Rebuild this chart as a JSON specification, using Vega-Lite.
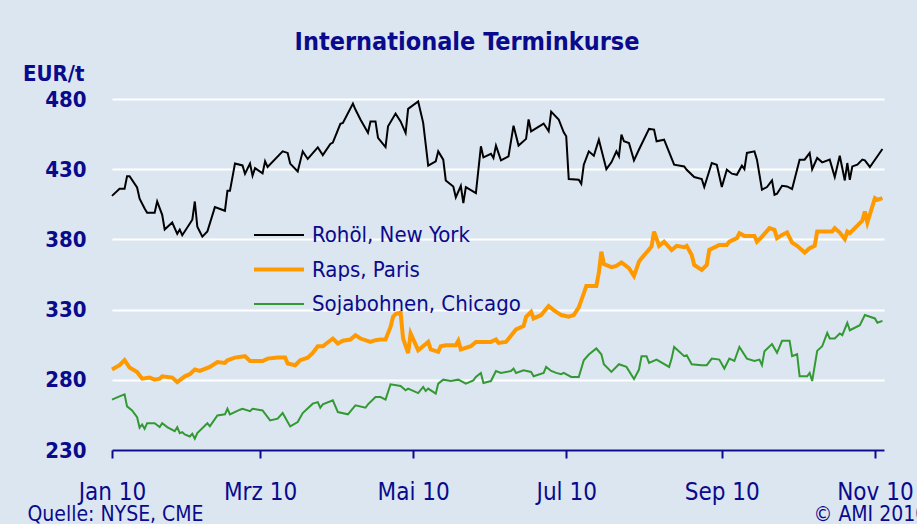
{
"$schema": "https://vega.github.io/schema/vega-lite/v6.json",
"width": 772, "height": 351,
"autosize": {"type": "none"},
"padding": {"left": 112, "top": 99, "right": 33, "bottom": 74},
"background": "#dce6f1",
"title": {"text": "Internationale Terminkurse", "fontSize": 25, "fontWeight": "bold", "color": "#0a0a8c", "font": "DejaVu Sans Condensed", "anchor": "middle", "frame": "group", "dx": -31, "dy": 18, "baseline": "alphabetic", "offset": 5},
"datasets": {
"oil": [
{"d":"2010-01-01","v":411},{"d":"2010-01-04","v":416},{"d":"2010-01-06","v":416},{"d":"2010-01-07","v":425},{"d":"2010-01-08","v":425},{"d":"2010-01-11","v":417},{"d":"2010-01-12","v":409},{"d":"2010-01-14","v":402},{"d":"2010-01-15","v":399},{"d":"2010-01-18","v":399},{"d":"2010-01-19","v":407},{"d":"2010-01-21","v":397.5},{"d":"2010-01-22","v":387},{"d":"2010-01-25","v":392},{"d":"2010-01-27","v":384},{"d":"2010-01-28","v":387},{"d":"2010-01-29","v":383},
{"d":"2010-02-02","v":394},{"d":"2010-02-03","v":407},{"d":"2010-02-04","v":389},{"d":"2010-02-06","v":382},{"d":"2010-02-08","v":385.6},{"d":"2010-02-11","v":403},{"d":"2010-02-15","v":400.4},{"d":"2010-02-16","v":414.6},{"d":"2010-02-17","v":414.6},{"d":"2010-02-19","v":434},{"d":"2010-02-22","v":432.7},{"d":"2010-02-23","v":426.8},{"d":"2010-02-25","v":434},{"d":"2010-02-26","v":425.4},{"d":"2010-02-27","v":430.8},
{"d":"2010-03-02","v":427},{"d":"2010-03-03","v":435.6},{"d":"2010-03-04","v":431.6},{"d":"2010-03-10","v":442.7},{"d":"2010-03-12","v":441.6},{"d":"2010-03-13","v":434},{"d":"2010-03-16","v":428.4},{"d":"2010-03-18","v":442.7},{"d":"2010-03-20","v":437.3},{"d":"2010-03-24","v":445.6},{"d":"2010-03-26","v":440},{"d":"2010-03-29","v":448},{"d":"2010-03-30","v":449},
{"d":"2010-04-02","v":462.3},{"d":"2010-04-03","v":463},{"d":"2010-04-07","v":476.8},{"d":"2010-04-08","v":472.5},{"d":"2010-04-10","v":465.4},{"d":"2010-04-13","v":455.9},{"d":"2010-04-14","v":464},{"d":"2010-04-16","v":464},{"d":"2010-04-17","v":452.3},{"d":"2010-04-20","v":445.8},{"d":"2010-04-21","v":460.6},{"d":"2010-04-24","v":469.6},{"d":"2010-04-26","v":464},{"d":"2010-04-28","v":455.9},{"d":"2010-04-29","v":473},
{"d":"2010-05-03","v":478.2},{"d":"2010-05-05","v":463},{"d":"2010-05-07","v":432.5},{"d":"2010-05-10","v":435.6},{"d":"2010-05-11","v":442.7},{"d":"2010-05-13","v":436.8},{"d":"2010-05-14","v":422},{"d":"2010-05-17","v":417.7},{"d":"2010-05-18","v":410},{"d":"2010-05-20","v":418.2},{"d":"2010-05-21","v":405.8},{"d":"2010-05-22","v":417.3},{"d":"2010-05-26","v":413},{"d":"2010-05-28","v":446.3},{"d":"2010-05-29","v":438.4},
{"d":"2010-06-01","v":441},{"d":"2010-06-02","v":438},{"d":"2010-06-03","v":446.8},{"d":"2010-06-05","v":436.3},{"d":"2010-06-08","v":439.2},{"d":"2010-06-10","v":461},{"d":"2010-06-12","v":446.8},{"d":"2010-06-15","v":451.6},{"d":"2010-06-16","v":465.4},{"d":"2010-06-17","v":457},{"d":"2010-06-22","v":462.5},{"d":"2010-06-24","v":457},{"d":"2010-06-25","v":471},{"d":"2010-06-28","v":465.4},{"d":"2010-06-30","v":456.3},
{"d":"2010-07-01","v":453.4},{"d":"2010-07-02","v":423},{"d":"2010-07-06","v":422.5},{"d":"2010-07-07","v":419.6},{"d":"2010-07-08","v":433.2},{"d":"2010-07-10","v":442.7},{"d":"2010-07-12","v":439.6},{"d":"2010-07-14","v":451},{"d":"2010-07-17","v":430},{"d":"2010-07-19","v":434.9},{"d":"2010-07-21","v":442.7},{"d":"2010-07-22","v":439.2},{"d":"2010-07-23","v":454.6},{"d":"2010-07-24","v":449.9},{"d":"2010-07-26","v":448.7},{"d":"2010-07-28","v":436.3},{"d":"2010-07-30","v":444},
{"d":"2010-08-03","v":458.7},{"d":"2010-08-05","v":458.2},{"d":"2010-08-06","v":449.9},{"d":"2010-08-09","v":451},{"d":"2010-08-13","v":433.2},{"d":"2010-08-17","v":432},{"d":"2010-08-18","v":429.6},{"d":"2010-08-21","v":424.4},{"d":"2010-08-24","v":423},{"d":"2010-08-25","v":417.3},{"d":"2010-08-26","v":423},{"d":"2010-08-28","v":434.4},{"d":"2010-08-30","v":433.2},
{"d":"2010-09-01","v":417.3},{"d":"2010-09-03","v":429.6},{"d":"2010-09-05","v":426.8},{"d":"2010-09-07","v":426},{"d":"2010-09-09","v":432.5},{"d":"2010-09-10","v":430},{"d":"2010-09-11","v":441.6},{"d":"2010-09-14","v":442.7},{"d":"2010-09-15","v":436.8},{"d":"2010-09-17","v":415.4},{"d":"2010-09-19","v":417.3},{"d":"2010-09-21","v":422},{"d":"2010-09-22","v":411.8},{"d":"2010-09-23","v":412.5},{"d":"2010-09-25","v":418.2},{"d":"2010-09-27","v":417.7},{"d":"2010-09-29","v":415.9},
{"d":"2010-10-02","v":436.8},{"d":"2010-10-04","v":436.8},{"d":"2010-10-06","v":441.6},{"d":"2010-10-07","v":430},{"d":"2010-10-09","v":438},{"d":"2010-10-11","v":434.9},{"d":"2010-10-14","v":436.8},{"d":"2010-10-16","v":424.4},{"d":"2010-10-18","v":439.6},{"d":"2010-10-20","v":422},{"d":"2010-10-21","v":434.4},{"d":"2010-10-22","v":422.5},{"d":"2010-10-23","v":432},{"d":"2010-10-25","v":433.2},{"d":"2010-10-27","v":436.8},{"d":"2010-10-28","v":436.3},{"d":"2010-10-30","v":431.6},
{"d":"2010-11-02","v":439.2},{"d":"2010-11-04","v":444.4}
],
"raps": [
{"d":"2010-01-01","v":287.3},{"d":"2010-01-04","v":290.4},{"d":"2010-01-06","v":294},{"d":"2010-01-08","v":288.7},{"d":"2010-01-11","v":285.6},{"d":"2010-01-13","v":280.8},{"d":"2010-01-16","v":281.6},{"d":"2010-01-18","v":280.1},{"d":"2010-01-20","v":280.8},{"d":"2010-01-21","v":282.5},{"d":"2010-01-25","v":281.6},{"d":"2010-01-27","v":278.4},{"d":"2010-01-30","v":282.5},
{"d":"2010-02-01","v":284},{"d":"2010-02-03","v":287.3},{"d":"2010-02-05","v":286.3},{"d":"2010-02-09","v":289.2},{"d":"2010-02-12","v":292.7},{"d":"2010-02-15","v":292},{"d":"2010-02-16","v":293.9},{"d":"2010-02-19","v":295.8},{"d":"2010-02-23","v":296.8},{"d":"2010-02-25","v":293.4},
{"d":"2010-03-02","v":293.4},{"d":"2010-03-04","v":295.1},{"d":"2010-03-08","v":295.8},{"d":"2010-03-11","v":295.8},{"d":"2010-03-12","v":291.6},{"d":"2010-03-15","v":290.4},{"d":"2010-03-17","v":294},{"d":"2010-03-20","v":295.8},{"d":"2010-03-22","v":299.1},{"d":"2010-03-24","v":303.9},{"d":"2010-03-26","v":303.9},{"d":"2010-03-30","v":309.4},
{"d":"2010-04-01","v":305.9},{"d":"2010-04-03","v":307.8},{"d":"2010-04-06","v":308.7},{"d":"2010-04-08","v":311.8},{"d":"2010-04-10","v":309.4},{"d":"2010-04-14","v":307},{"d":"2010-04-16","v":308.2},{"d":"2010-04-18","v":308.7},{"d":"2010-04-20","v":308.7},{"d":"2010-04-22","v":317.7},{"d":"2010-04-23","v":324.9},{"d":"2010-04-24","v":326.8},{"d":"2010-04-26","v":327.8},{"d":"2010-04-27","v":309.4},{"d":"2010-04-29","v":299.1},{"d":"2010-04-30","v":313},
{"d":"2010-05-03","v":301.1},{"d":"2010-05-07","v":307},{"d":"2010-05-08","v":301.6},{"d":"2010-05-11","v":299.9},{"d":"2010-05-12","v":303.9},{"d":"2010-05-14","v":304.6},{"d":"2010-05-18","v":304.6},{"d":"2010-05-19","v":307.8},{"d":"2010-05-20","v":301.6},{"d":"2010-05-24","v":303.9},{"d":"2010-05-26","v":307},
{"d":"2010-06-01","v":307},{"d":"2010-06-03","v":308.7},{"d":"2010-06-04","v":306.3},{"d":"2010-06-07","v":307},{"d":"2010-06-11","v":315.9},{"d":"2010-06-14","v":318.2},{"d":"2010-06-15","v":324.9},{"d":"2010-06-17","v":328.4},{"d":"2010-06-18","v":323.7},{"d":"2010-06-21","v":326.1},{"d":"2010-06-24","v":332.5},{"d":"2010-06-26","v":329.6},{"d":"2010-06-29","v":326.1},
{"d":"2010-07-02","v":324.9},{"d":"2010-07-04","v":326.1},{"d":"2010-07-06","v":331.6},{"d":"2010-07-08","v":341.6},{"d":"2010-07-09","v":346.8},{"d":"2010-07-13","v":346.8},{"d":"2010-07-14","v":356.3},{"d":"2010-07-15","v":371.3},{"d":"2010-07-16","v":362.5},{"d":"2010-07-19","v":360.2},{"d":"2010-07-21","v":361.1},{"d":"2010-07-23","v":363.6},{"d":"2010-07-26","v":359.5},{"d":"2010-07-28","v":353.9},{"d":"2010-07-30","v":364.2},{"d":"2010-07-31","v":366.5},
{"d":"2010-08-04","v":375},{"d":"2010-08-05","v":385.6},{"d":"2010-08-07","v":375.4},{"d":"2010-08-09","v":378.4},{"d":"2010-08-12","v":372.5},{"d":"2010-08-14","v":375.4},{"d":"2010-08-17","v":374.4},{"d":"2010-08-18","v":375.4},{"d":"2010-08-20","v":368.9},{"d":"2010-08-21","v":361.8},{"d":"2010-08-24","v":358.2},{"d":"2010-08-26","v":361.8},{"d":"2010-08-27","v":372.5},{"d":"2010-08-31","v":376.1},
{"d":"2010-09-03","v":376.1},{"d":"2010-09-04","v":378.4},{"d":"2010-09-07","v":380.9},{"d":"2010-09-08","v":384.4},{"d":"2010-09-10","v":382.5},{"d":"2010-09-14","v":382.5},{"d":"2010-09-15","v":378.4},{"d":"2010-09-17","v":382},{"d":"2010-09-20","v":388},{"d":"2010-09-22","v":386.8},{"d":"2010-09-23","v":380.9},{"d":"2010-09-25","v":383.2},{"d":"2010-09-27","v":384.9},{"d":"2010-09-29","v":377.7},
{"d":"2010-10-01","v":375.4},{"d":"2010-10-04","v":370.6},{"d":"2010-10-06","v":373.7},{"d":"2010-10-08","v":375.4},{"d":"2010-10-09","v":385.6},{"d":"2010-10-15","v":385.6},{"d":"2010-10-16","v":388},{"d":"2010-10-18","v":384.9},{"d":"2010-10-20","v":380.2},{"d":"2010-10-21","v":385.6},{"d":"2010-10-22","v":384.4},{"d":"2010-10-26","v":391.6},{"d":"2010-10-27","v":393.4},{"d":"2010-10-28","v":399.9},{"d":"2010-10-29","v":392},
{"d":"2010-11-01","v":409.4},{"d":"2010-11-02","v":408.2},{"d":"2010-11-04","v":409.4}
],
"soja": [
{"d":"2010-01-01","v":265.9},{"d":"2010-01-04","v":268.2},{"d":"2010-01-06","v":269.6},{"d":"2010-01-07","v":261.1},{"d":"2010-01-09","v":258.2},{"d":"2010-01-11","v":253.4},{"d":"2010-01-12","v":245.9},{"d":"2010-01-13","v":248.2},{"d":"2010-01-14","v":245.1},{"d":"2010-01-15","v":249.1},{"d":"2010-01-18","v":249.1},{"d":"2010-01-20","v":246.3},{"d":"2010-01-21","v":249.1},{"d":"2010-01-23","v":246.3},{"d":"2010-01-26","v":243.4},{"d":"2010-01-27","v":246.3},{"d":"2010-01-28","v":242},{"d":"2010-01-29","v":242.7},{"d":"2010-01-30","v":241.1},
{"d":"2010-02-01","v":239.6},{"d":"2010-02-02","v":241.6},{"d":"2010-02-03","v":238},{"d":"2010-02-04","v":242},{"d":"2010-02-08","v":249.1},{"d":"2010-02-09","v":246.8},{"d":"2010-02-12","v":254.6},{"d":"2010-02-15","v":255.4},{"d":"2010-02-16","v":259.4},{"d":"2010-02-17","v":255.4},{"d":"2010-02-21","v":258.7},{"d":"2010-02-22","v":259.4},{"d":"2010-02-25","v":257.7},{"d":"2010-02-26","v":259.4},
{"d":"2010-03-02","v":258.2},{"d":"2010-03-05","v":251.1},{"d":"2010-03-08","v":252.3},{"d":"2010-03-10","v":256.3},{"d":"2010-03-13","v":246.8},{"d":"2010-03-16","v":249.9},{"d":"2010-03-18","v":256.3},{"d":"2010-03-22","v":263},{"d":"2010-03-24","v":264.1},{"d":"2010-03-25","v":260.1},{"d":"2010-03-26","v":262.5},{"d":"2010-03-30","v":265.4},
{"d":"2010-04-01","v":257},{"d":"2010-04-05","v":255.4},{"d":"2010-04-08","v":261.8},{"d":"2010-04-12","v":260.1},{"d":"2010-04-13","v":262.5},{"d":"2010-04-16","v":267.7},{"d":"2010-04-18","v":267.7},{"d":"2010-04-20","v":265.9},{"d":"2010-04-22","v":276.8},{"d":"2010-04-26","v":275.6},{"d":"2010-04-28","v":272.5},{"d":"2010-04-29","v":273.7},
{"d":"2010-05-03","v":270.5},{"d":"2010-05-05","v":274.9},{"d":"2010-05-06","v":272},{"d":"2010-05-07","v":273.7},{"d":"2010-05-10","v":270.1},{"d":"2010-05-11","v":277.3},{"d":"2010-05-13","v":280.1},{"d":"2010-05-16","v":279.1},{"d":"2010-05-19","v":280.1},{"d":"2010-05-22","v":277.3},{"d":"2010-05-25","v":279.6},{"d":"2010-05-26","v":282},{"d":"2010-05-28","v":284.9},{"d":"2010-05-29","v":277.7},
{"d":"2010-06-01","v":279.1},{"d":"2010-06-03","v":286.3},{"d":"2010-06-05","v":284.9},{"d":"2010-06-09","v":286.3},{"d":"2010-06-10","v":288},{"d":"2010-06-11","v":284.9},{"d":"2010-06-14","v":286.8},{"d":"2010-06-17","v":285.6},{"d":"2010-06-18","v":282.5},{"d":"2010-06-22","v":284.9},{"d":"2010-06-23","v":289.2},{"d":"2010-06-25","v":286.3},{"d":"2010-06-27","v":284.9},{"d":"2010-06-29","v":284},{"d":"2010-06-30","v":284.9},
{"d":"2010-07-03","v":282},{"d":"2010-07-06","v":282},{"d":"2010-07-08","v":293.9},{"d":"2010-07-10","v":298},{"d":"2010-07-13","v":302.3},{"d":"2010-07-15","v":298.2},{"d":"2010-07-16","v":291.1},{"d":"2010-07-19","v":285.6},{"d":"2010-07-22","v":291.1},{"d":"2010-07-25","v":289.2},{"d":"2010-07-28","v":280.5},{"d":"2010-07-30","v":287.3},{"d":"2010-07-31","v":296.8},
{"d":"2010-08-02","v":296.8},{"d":"2010-08-03","v":292},{"d":"2010-08-06","v":294.4},{"d":"2010-08-11","v":289.2},{"d":"2010-08-12","v":295.1},{"d":"2010-08-13","v":303.4},{"d":"2010-08-17","v":296.8},{"d":"2010-08-18","v":297.5},{"d":"2010-08-20","v":291.1},{"d":"2010-08-24","v":290.4},{"d":"2010-08-26","v":290.4},{"d":"2010-08-28","v":295.1},{"d":"2010-08-31","v":294.4},
{"d":"2010-09-02","v":288},{"d":"2010-09-04","v":295.1},{"d":"2010-09-06","v":293.4},{"d":"2010-09-08","v":303.4},{"d":"2010-09-11","v":295.1},{"d":"2010-09-14","v":293.4},{"d":"2010-09-16","v":294.4},{"d":"2010-09-17","v":290.4},{"d":"2010-09-18","v":300.4},{"d":"2010-09-21","v":305.4},{"d":"2010-09-23","v":299.2},{"d":"2010-09-25","v":307.8},{"d":"2010-09-28","v":307.8},{"d":"2010-09-29","v":296.8},
{"d":"2010-10-01","v":298.2},{"d":"2010-10-02","v":282.5},{"d":"2010-10-05","v":282.5},{"d":"2010-10-06","v":284.9},{"d":"2010-10-07","v":279.1},{"d":"2010-10-09","v":300.6},{"d":"2010-10-11","v":303.9},{"d":"2010-10-13","v":313.4},{"d":"2010-10-14","v":309.4},{"d":"2010-10-16","v":309.4},{"d":"2010-10-18","v":313},{"d":"2010-10-19","v":311.8},{"d":"2010-10-21","v":320.6},{"d":"2010-10-22","v":315.3},{"d":"2010-10-26","v":318.9},{"d":"2010-10-28","v":326.1},
{"d":"2010-11-01","v":323.7},{"d":"2010-11-02","v":320.6},{"d":"2010-11-04","v":322}
]
},
"layer": [
{"data": {"name": "oil"}, "mark": {"type": "line", "strokeWidth": 2},
 "encoding": {
  "x": {"field": "d", "type": "temporal", "title": "Quelle: NYSE, CME", "scale": {"type": "utc", "domain": ["2010-01-01T00:00:00Z", "2010-11-04T15:00:00Z"]}},
  "y": {"field": "v", "type": "quantitative", "scale": {"domain": [230, 480], "nice": false, "zero": false},
        "axis": {"title": "EUR/t", "values": [230, 280, 330, 380, 430, 480], "grid": true, "gridColor": "#ffffff", "gridWidth": 2, "gridOpacity": 1, "domain": false, "ticks": false, "tickSize": 0, "labelFontSize": 22, "labelFontWeight": "bold", "labelColor": "#0a0a8c", "labelPadding": 26, "titleAngle": 0, "titleAlign": "right", "titleBaseline": "alphabetic", "titleX": -28, "titleY": -19, "titleFontSize": 22, "titleFontWeight": "bold", "titleColor": "#0a0a8c"}},
  "color": {"datum": "Rohöl, New York", "type": "nominal",
            "scale": {"domain": ["Rohöl, New York", "Raps, Paris", "Sojabohnen, Chicago"], "range": ["#000000", "#ff9900", "#339933"]},
            "legend": {"orient": "none", "legendX": 156, "legendY": 125, "title": null, "symbolType": "stroke", "symbolSize": 2500, "labelFontSize": 22, "labelColor": "#0a0a8c", "labelOffset": 22, "rowPadding": 12.5, "labelLimit": 400,
                       "encode": {"symbols": {"update": {"strokeWidth": {"signal": "datum.value === 'Raps, Paris' ? 4 : 2"}}}}}}
 }},
{"data": {"name": "raps"}, "mark": {"type": "line", "strokeWidth": 4},
 "encoding": {
  "x": {"field": "d", "type": "temporal", "title": "Quelle: NYSE, CME"},
  "y": {"field": "v", "type": "quantitative", "axis": null},
  "color": {"datum": "Raps, Paris", "type": "nominal"}
 }},
{"data": {"name": "soja"}, "mark": {"type": "line", "strokeWidth": 2},
 "encoding": {
  "x": {"field": "d", "type": "temporal", "title": "Quelle: NYSE, CME"},
  "y": {"field": "v", "type": "quantitative", "axis": null},
  "color": {"datum": "Sojabohnen, Chicago", "type": "nominal"}
 }},
{"data": {"name": "soja"}, "mark": {"type": "point", "opacity": 0},
 "encoding": {
  "y": {"field": "v", "type": "quantitative",
        "axis": {"orient": "right", "title": "© AMI 2010", "grid": false, "labels": false, "ticks": false, "domain": false, "titleAngle": 0, "titleAlign": "left", "titleBaseline": "alphabetic", "titleX": -71, "titleY": 421, "titleFontSize": 21, "titleFontWeight": "normal", "titleColor": "#0a0a8c"}}
 }}
],
"resolve": {"axis": {"y": "independent"}},
"config": {
 "view": {"stroke": null},
 "font": "DejaVu Sans Condensed",
 "axisX": {"domainColor": "#0a0a8c", "domainWidth": 2, "tickColor": "#0a0a8c", "tickWidth": 2, "tickSize": 8, "labelColor": "#0a0a8c", "labelFontSize": 24, "labelPadding": 22, "labelFlush": false, "grid": false,
  "tickCount": {"interval": "month", "step": 2},
  "labelExpr": "['Jan','Feb','Mrz','Apr','Mai','Jun','Jul','Aug','Sep','Okt','Nov','Dez'][utcmonth(datum.value)] + ' ' + utcFormat(datum.value, '%y')",
  "titleColor": "#0a0a8c", "titleFontSize": 21, "titleFontWeight": "normal", "titleX": -85, "titleY": 70, "titleAlign": "left", "titleAnchor": "start", "titleBaseline": "alphabetic"}
}
}
